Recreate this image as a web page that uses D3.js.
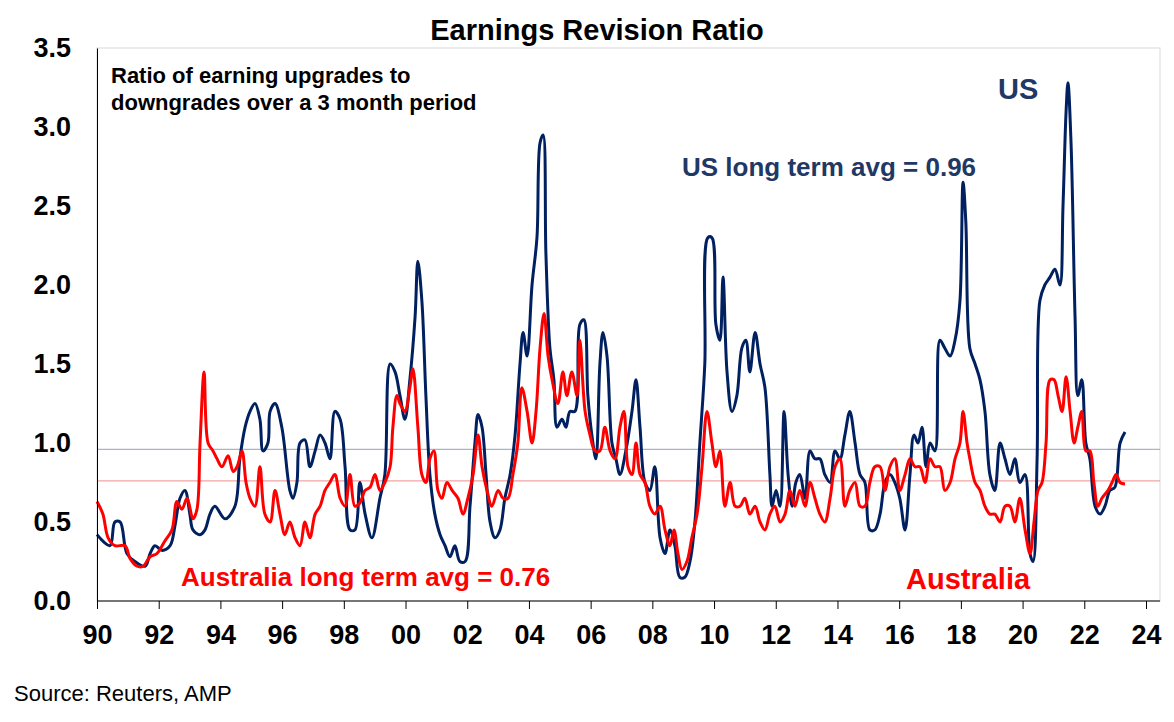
<!DOCTYPE html>
<html><head><meta charset="utf-8">
<script src="https://cdn.jsdelivr.net/npm/d3@7"></script>
<style>body{margin:0;background:#fff}text{font-family:"Liberation Sans",Arial,sans-serif}</style>
</head><body><svg id="c" width="1174" height="722"></svg>
<script>
// years since 1990, ratio
const usT = [0,.42,.58,.75,.97,1.23,1.56,1.72,1.88,2.11,2.37,2.53,2.69,2.85,3.01,3.11,3.34,3.50,3.66,3.82,4.15,4.47,4.63,4.80,4.96,5.12,5.28,5.38,5.54,5.61,5.77,5.99,6.25,6.35,6.48,6.58,6.74,6.90,7.07,7.23,7.39,7.55,7.71,7.88,8.04,8.20,8.36,8.52,8.69,8.91,9.17,9.33,9.50,9.66,9.82,9.98,10.14,10.31,10.40,10.53,10.66,10.79,10.95,11.12,11.28,11.44,11.60,11.76,11.93,12.09,12.25,12.35,12.48,12.61,12.74,12.90,13.06,13.22,13.39,13.55,13.71,13.81,13.94,14.10,14.26,14.36,14.46,14.55,14.68,14.81,14.91,15.07,15.20,15.33,15.49,15.65,15.78,15.91,16.04,16.17,16.30,16.40,16.53,16.69,16.82,16.95,17.14,17.34,17.47,17.60,17.76,17.92,18.08,18.25,18.41,18.57,18.73,18.89,19.05,19.22,19.38,19.54,19.70,19.80,19.93,20.06,20.19,20.29,20.42,20.58,20.74,20.90,21.03,21.16,21.33,21.49,21.65,21.81,21.88,22.01,22.14,22.27,22.40,22.53,22.65,22.78,22.95,23.11,23.27,23.43,23.59,23.76,23.92,24.08,24.24,24.40,24.57,24.73,24.89,25.05,25.21,25.38,25.54,25.70,25.86,26.02,26.19,26.35,26.48,26.61,26.74,26.87,27.00,27.16,27.32,27.48,27.65,27.81,27.97,28.07,28.16,28.29,28.46,28.62,28.78,28.94,29.10,29.27,29.43,29.59,29.75,29.91,30.08,30.24,30.34,30.47,30.56,30.72,30.89,31.05,31.21,31.31,31.41,31.47,31.57,31.70,31.79,31.92,32.05,32.18,32.35,32.51,32.67,32.83,32.99,33.16,33.32];
const usV = [.42,.35,.50,.50,.30,.25,.22,.30,.35,.32,.35,.48,.65,.70,.55,.45,.42,.45,.55,.60,.52,.60,.90,1.10,1.20,1.25,1.15,.95,1.00,1.20,1.25,1.10,.70,.65,.75,1.00,1.02,.85,.95,1.05,1.00,.90,1.20,1.15,.85,.45,.45,.75,.55,.40,.65,.80,1.50,1.45,1.30,1.15,1.40,1.80,2.15,1.90,1.30,.80,.55,.42,.35,.28,.35,.25,.25,.60,1.00,1.18,1.10,.80,.50,.40,.45,.65,.80,1.05,1.50,1.70,1.55,2.00,2.30,2.90,2.95,2.20,1.60,1.40,1.10,1.15,1.10,1.20,1.20,1.75,1.78,1.30,1.05,.90,1.50,1.70,1.55,1.00,.90,.80,.95,1.20,1.40,1.10,.75,.70,.85,.40,.30,.45,.35,.15,.15,.25,.50,1.00,1.50,2.30,2.30,1.75,1.65,2.05,1.45,1.20,1.30,1.60,1.65,1.45,1.70,1.50,1.35,.80,.60,.70,.60,1.20,.80,.60,.75,.80,.65,.95,.90,.90,.80,.75,.95,.90,1.05,1.20,1.00,.80,.75,.45,.45,.55,.75,.80,.75,.65,.45,.80,1.05,1.00,1.10,.85,1.00,.95,1.65,1.60,1.55,1.65,1.90,2.65,2.40,1.60,1.50,1.40,1.20,.80,.70,1.00,.90,.80,.90,.75,.80,.30,.25,.90,1.90,2.00,2.05,2.10,2.00,2.50,3.10,3.28,2.90,1.80,1.30,1.40,1.00,.90,.60,.55,.60,.70,.72,1.00,1.07];
const auT = [0,.19,.36,.58,.91,1.07,1.30,1.49,1.72,1.94,2.20,2.43,2.59,2.75,2.92,3.11,3.24,3.34,3.47,3.60,3.76,3.89,4.05,4.25,4.41,4.54,4.70,4.83,4.96,5.12,5.28,5.44,5.61,5.77,5.93,6.09,6.25,6.42,6.58,6.74,6.90,7.07,7.23,7.39,7.55,7.71,7.88,8.04,8.20,8.36,8.52,8.69,8.85,9.01,9.17,9.33,9.50,9.59,9.72,9.82,9.98,10.14,10.24,10.40,10.53,10.66,10.79,10.92,11.05,11.18,11.34,11.51,11.70,11.86,12.02,12.19,12.35,12.48,12.64,12.80,13.00,13.16,13.32,13.48,13.64,13.77,13.94,14.10,14.23,14.36,14.49,14.62,14.75,14.94,15.10,15.23,15.39,15.56,15.65,15.82,15.98,16.14,16.30,16.46,16.63,16.79,16.95,17.08,17.21,17.34,17.47,17.60,17.76,17.92,18.08,18.25,18.41,18.57,18.70,18.83,18.96,19.12,19.28,19.45,19.61,19.77,19.93,20.06,20.19,20.35,20.52,20.68,20.84,21.00,21.16,21.33,21.49,21.65,21.81,21.97,22.14,22.30,22.46,22.62,22.78,22.95,23.11,23.27,23.43,23.59,23.76,23.92,24.08,24.24,24.40,24.57,24.73,24.89,25.05,25.21,25.38,25.54,25.70,25.86,26.02,26.19,26.35,26.51,26.67,26.84,27.00,27.16,27.32,27.48,27.65,27.81,27.97,28.07,28.20,28.29,28.46,28.62,28.78,28.94,29.10,29.27,29.43,29.59,29.75,29.91,30.08,30.24,30.37,30.50,30.63,30.76,30.89,31.02,31.15,31.28,31.41,31.54,31.67,31.79,31.92,32.05,32.18,32.31,32.44,32.57,32.77,32.90,33.03,33.16,33.32];
const auV = [.63,.55,.40,.35,.35,.27,.22,.22,.28,.30,.38,.45,.63,.58,.65,.52,.58,1.00,1.45,1.00,.95,.90,.85,.92,.82,.85,.95,.75,.65,.60,.85,.55,.50,.70,.55,.42,.50,.40,.35,.50,.40,.55,.60,.70,.75,.80,.65,.60,.80,.60,.62,.70,.72,.80,.70,.75,.85,1.10,1.30,1.25,1.20,1.35,1.47,1.10,.80,.75,.90,.95,.70,.65,.75,.70,.65,.55,.65,.80,1.05,.85,.70,.60,.70,.65,.65,.80,1.00,1.35,1.20,1.00,1.20,1.60,1.82,1.55,1.40,1.25,1.45,1.30,1.45,1.30,1.65,1.20,1.05,.95,.95,1.10,.95,.90,1.10,1.20,.85,.80,1.00,.80,.75,.60,.55,.60,.45,.35,.45,.30,.20,.25,.40,.55,.85,1.20,1.00,.85,.95,.60,.75,.60,.60,.65,.55,.60,.50,.45,.55,.60,.50,.55,.70,.60,.70,.60,.75,.65,.55,.50,.65,.85,.90,.60,.70,.75,.60,.60,.75,.85,.85,.70,.85,.90,.70,.80,.90,.85,.85,.75,.90,.85,.85,.70,.75,.90,1.00,1.20,1.00,.90,.75,.70,.60,.55,.55,.50,.60,.60,.50,.65,.45,.30,.50,.70,.75,1.00,1.40,1.40,1.30,1.20,1.42,1.20,1.00,1.10,1.20,.95,.95,.75,.60,.65,.70,.75,.80,.75,.74];
const usAvg = 0.96, auAvg = 0.76;
const xTicks = [0,2,4,6,8,10,12,14,16,18,20,22,24,26,28,30,32,34];
const xLabels = ["90","92","94","96","98","00","02","04","06","08","10","12","14","16","18","20","22","24"];
const yTicks = [0,0.5,1,1.5,2,2.5,3,3.5];

const svg = d3.select("#c");
const x = d3.scaleLinear().domain([0,34]).range([97,1146]);
const y = d3.scaleLinear().domain([0,3.5]).range([601,48]);

svg.append("rect").attr("x",97).attr("y",48).attr("width",1063).attr("height",553)
  .attr("fill","none").attr("stroke","#d9d9d9");

svg.append("text").attr("x",597).attr("y",40).attr("text-anchor","middle")
  .attr("font-size",29).attr("font-weight","bold").text("Earnings Revision Ratio");

// avg lines
svg.append("line").attr("x1",97).attr("x2",1160).attr("y1",y(usAvg)).attr("y2",y(usAvg)).attr("stroke","#a6b6c8").attr("stroke-width",1.3);
svg.append("line").attr("x1",97).attr("x2",1160).attr("y1",y(auAvg)).attr("y2",y(auAvg)).attr("stroke","#f5a3a3").attr("stroke-width",1.3);

const line = (T,V) => d3.line().x((d,i)=>x(T[i])).y(d=>y(d)).curve(d3.curveCatmullRom.alpha(0.5))(V);
svg.append("path").attr("d",line(usT,usV)).attr("fill","none").attr("stroke","#002060").attr("stroke-width",3);
svg.append("path").attr("d",line(auT,auV)).attr("fill","none").attr("stroke","#ff0000").attr("stroke-width",3);

// axes
const yAx = svg.append("g").attr("transform","translate(97,0)")
  .call(d3.axisLeft(y).tickValues(yTicks).tickFormat(d3.format(".1f")).tickSize(0).tickPadding(26));
yAx.select(".domain").attr("stroke","#000");
yAx.selectAll("text").attr("font-size",27).attr("font-weight","bold").attr("font-family","Liberation Sans, Arial");

const xAx = svg.append("g").attr("transform","translate(0,601)")
  .call(d3.axisBottom(x).tickValues(xTicks).tickFormat((d,i)=>xLabels[i]).tickSize(8).tickPadding(16));
xAx.select(".domain").attr("stroke","#000").attr("d","M97,0H1160");
xAx.selectAll("text").attr("font-size",27).attr("font-weight","bold").attr("font-family","Liberation Sans, Arial");

// annotations
const ann = (tx,ty,t,c,s) => svg.append("text").attr("x",tx).attr("y",ty).attr("font-size",s).attr("font-weight","bold").attr("fill",c).text(t);
ann(111,83,"Ratio of earning upgrades to","#000",22);
ann(111,110,"downgrades over a 3 month period","#000",22);
ann(998,99,"US","#1f3864",29);
ann(682,176,"US long term avg = 0.96","#1f3864",26);
ann(181,586,"Australia long term avg = 0.76","#ff0000",26);
ann(906,589,"Australia","#ff0000",29);
svg.append("text").attr("x",14).attr("y",701).attr("font-size",22).attr("font-family","Open Sans, sans-serif").text("Source: Reuters, AMP");
</script></body></html>
